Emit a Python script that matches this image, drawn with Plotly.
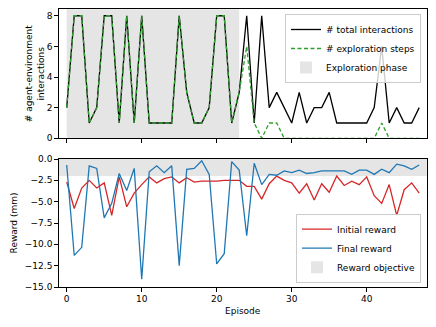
import plotly.graph_objects as go

# episode data
episodes = list(range(48))
total_interactions = [2, 8, 8, 1, 2, 8, 8, 1, 8, 1, 8, 1, 1, 1, 1, 8, 3, 1, 1, 2,
                      8, 8, 1, 3, 8, 1, 8, 2, 3, 2, 1, 3, 1, 2, 2, 3, 1, 1, 1, 1,
                      1, 2, 6, 1, 2, 1, 1, 2]
exploration_steps = [2, 8, 8, 1, 2, 8, 8, 1, 8, 1, 8, 1, 1, 1, 1, 8, 3, 1, 1, 2,
                     8, 8, 1, 3, 6, 1, 0, 1, 1, 0, 0, 0, 0, 0, 0, 0, 0, 0, 0, 0,
                     0, 0, 1, 0, 0, 0, 0, 0]
initial_reward = [-2.7, -5.8, -3.4, -2.5, -3.4, -2.8, -6.6, -2.1, -5.6, -4.0,
                  -3.0, -2.1, -2.8, -2.3, -2.1, -2.8, -2.2, -2.7, -2.6, -2.6,
                  -2.6, -2.5, -2.5, -2.5, -3.2, -3.2, -4.7, -2.9, -2.0, -2.5,
                  -2.8, -4.0, -2.9, -4.8, -2.9, -3.9, -2.0, -3.1, -2.6, -3.0,
                  -2.1, -4.3, -5.2, -3.0, -6.6, -3.6, -2.8, -4.0]
final_reward = [-0.7, -11.3, -10.35, -0.8, -1.1, -6.9, -5.2, -1.7, -3.7, -1.1,
                -14.1, -1.5, -0.8, -1.6, -0.8, -12.5, -1.2, -1.1, -0.2, -1.8,
                -12.3, -11.1, -0.3, -1.3, -9.0, -0.5, -3.0, -1.8, -1.9, -1.4,
                -1.6, -1.3, -1.7, -1.6, -1.4, -1.4, -1.4, -1.4, -1.8, -1.3,
                -1.3, -1.8, -1.2, -1.6, -0.6, -0.8, -1.2, -0.7]
exploration_end = 23
reward_objective = -2

FONT = "DejaVu Sans"
FS = 9
SHADE = "rgba(190,190,190,0.4)"

fig = go.Figure()

fig.add_trace(go.Scatter(x=episodes, y=total_interactions, mode="lines",
                         name="# total interactions",
                         line=dict(color="black", width=1.3),
                         xaxis="x", yaxis="y", legend="legend"))
fig.add_trace(go.Scatter(x=episodes, y=exploration_steps, mode="lines",
                         name="# exploration steps",
                         line=dict(color="#2ca02c", width=1.3, dash="4px,2.5px"),
                         xaxis="x", yaxis="y", legend="legend"))
fig.add_shape(type="rect", xref="x", yref="y domain", x0=0, x1=exploration_end,
              y0=0, y1=1, fillcolor=SHADE, line_width=0, layer="below",
              name="Exploration phase", showlegend=True, legend="legend")

fig.add_trace(go.Scatter(x=episodes, y=initial_reward, mode="lines",
                         name="Initial reward",
                         line=dict(color="#d62728", width=1.3),
                         xaxis="x2", yaxis="y2", legend="legend2"))
fig.add_trace(go.Scatter(x=episodes, y=final_reward, mode="lines",
                         name="Final reward",
                         line=dict(color="#1f77b4", width=1.3),
                         xaxis="x2", yaxis="y2", legend="legend2"))
fig.add_shape(type="rect", xref="x2 domain", yref="y2", x0=0, x1=1,
              y0=reward_objective, y1=0, fillcolor=SHADE, line_width=0,
              layer="below", name="Reward objective", showlegend=True,
              legend="legend2")

axis_style = dict(showline=True, mirror=True, linecolor="black", linewidth=1,
                  ticks="outside", ticklen=3.5, tickwidth=1, tickcolor="black",
                  showgrid=False, zeroline=False, automargin=False,
                  tickfont=dict(family=FONT, size=FS, color="black"))

xdom = [58.7 / 436, 426.7 / 436]
fig.update_layout(
    width=436, height=327,
    margin=dict(l=0, r=0, t=0, b=0),
    paper_bgcolor="white", plot_bgcolor="white",
    font=dict(family=FONT, size=FS, color="black"),
    xaxis=dict(domain=xdom, range=[-1.07, 48], tickvals=[0, 10, 20, 30, 40],
               showticklabels=False, anchor="y", **axis_style),
    yaxis=dict(domain=[1 - 138.3 / 327, 1 - 9.3 / 327], range=[0, 8.42],
               tickvals=[0, 2, 4, 6, 8], anchor="x",
               title=dict(text="# agent-environment<br>interactions",
                          font=dict(family=FONT, size=FS), standoff=0),
               **axis_style),
    xaxis2=dict(domain=xdom, range=[-1.07, 48], tickvals=[0, 10, 20, 30, 40],
                anchor="y2",
                title=dict(text="Episode", font=dict(family=FONT, size=FS),
                           standoff=4),
                **axis_style),
    yaxis2=dict(domain=[1 - 287 / 327, 1 - 159 / 327], range=[-15, 0],
                tickvals=[0, -2.5, -5, -7.5, -10, -12.5, -15],
                tickformat=".1f", anchor="x2",
                title=dict(text="Reward (mm)", font=dict(family=FONT, size=FS),
                           standoff=5),
                **axis_style),
    legend=dict(x=421 / 436, y=1 - 14 / 327, xanchor="right", yanchor="top",
                bgcolor="rgba(255,255,255,0.8)", bordercolor="#cccccc",
                borderwidth=1, font=dict(family=FONT, size=FS),
                tracegroupgap=0, itemwidth=30),
    legend2=dict(x=421 / 436, y=1 - 282.7 / 327, xanchor="right",
                 yanchor="bottom", bgcolor="rgba(255,255,255,0.8)",
                 bordercolor="#cccccc", borderwidth=1,
                 font=dict(family=FONT, size=FS), tracegroupgap=0,
                 itemwidth=30),
)

# drop the page's default 8px body margin so the figure sits at the corner
fig.write_html("out.html", config={"displayModeBar": False},
               post_script="document.body.style.margin = '0';")
